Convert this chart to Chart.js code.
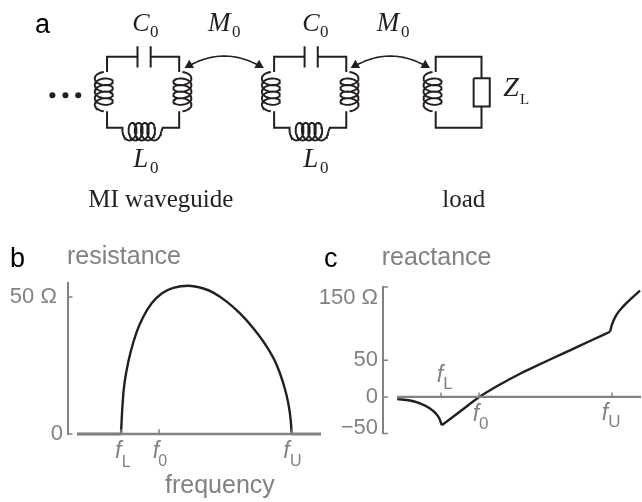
<!DOCTYPE html>
<html>
<head>
<meta charset="utf-8">
<script src="https://cdn.jsdelivr.net/npm/chart.js@4"></script>
<style>
  html, body { margin: 0; padding: 0; background: #fff; }
  #page { position: relative; width: 642px; height: 502px; overflow: hidden; }
  canvas { position: absolute; }
</style>
</head>
<body>
<div id="page">
  <canvas id="circuit" width="642" height="502" style="left:0;top:0"></canvas>
  <canvas id="resistance" width="322" height="200" style="left:0;top:260px"></canvas>
  <canvas id="reactance" width="342" height="200" style="left:300px;top:260px"></canvas>
</div>
<script>
const GRAY = "#808285";
const BLACK = "#231f20";

// frequency positions, arbitrary units
const fL = 62;
const f0 = 100;
const fU = 233;

// panel b
const resistanceFreq = [62, 63, 64.7, 67.7, 71.7, 77.7, 84.3, 92.7, 102.7, 114.3, 129.3, 144.3, 154.3, 167.7, 181, 194.3, 207.7, 217.7, 224.3, 229.3, 231.7, 232.7];
const resistanceVals = [0, 7.5, 16.1, 23.4, 30, 37.3, 42.8, 47.7, 51.3, 53.3, 54.1, 53.1, 51.6, 48.3, 44, 38.6, 31.9, 25.2, 18.5, 11.2, 5.1, 0];
const resistanceTicks = [0, 50];

// panel c, three pieces because of the kinks at fL and fU
const reactanceFreqLow = [18.3, 31, 41, 51, 57.7, 60.5, 62.7];
const reactanceValsLow = [-3.1, -5, -9, -16, -24, -30, -38.7];
const reactanceFreqMid = [62.7, 81, 101, 121, 141, 151, 171, 191, 211, 231];
const reactanceValsMid = [-38.7, -20, 0.4, 16.9, 31.6, 38.2, 51, 63.6, 76.3, 88.9];
const reactanceFreqHigh = [231, 233, 237, 244.3, 252.7, 261];
const reactanceValsHigh = [88.9, 99, 111, 123.6, 134.7, 145];
const reactanceTicks = [-50, 0, 50, 150];

const xy = (xs, ys) => xs.map((x, i) => ({ x, y: ys[i] }));
const pairs = (list) => list.map(([x, y]) => ({ x, y }));
const line = (data, color, width, extra) => ({
  data, borderColor: color, borderWidth: width, showLine: true, pointRadius: 0, clip: false, ...extra,
});
const curve = { cubicInterpolationMode: "monotone" };

// short tick marks drawn on the inside of an axis
const marks = (vals, len, vertical) => vals.flatMap((v) => vertical
  ? [{ x: v, y: 0 }, { x: v, y: len }, { x: v, y: null }]
  : [{ x: len[0], y: v }, { x: len[1], y: v }, { x: null, y: null }]);

function plotOptions(xMin, xMax, yMin, yMax, yTicks, yWidth, tickLabel, tickFont) {
  return {
    responsive: false,
    animation: false,
    layout: { padding: { top: yMax === 150 ? 23.5 : 23, bottom: yMax === 150 ? 26.5 : 26, left: 0, right: 1 } },
    plugins: { legend: { display: false }, tooltip: { enabled: false } },
    scales: {
      x: { type: "linear", display: false, min: xMin, max: xMax },
      y: {
        type: "linear",
        min: yMin,
        max: yMax,
        afterBuildTicks: (s) => { s.ticks = yTicks.map((value) => ({ value })); },
        afterFit: (s) => { s.width = yWidth; },
        grid: { display: false, drawTicks: false },
        border: { display: true, color: GRAY, width: 2 },
        ticks: { autoSkip: false, color: GRAY, padding: 5, callback: tickLabel, font: tickFont },
      },
    },
  };
}

new Chart(document.getElementById("resistance"), {
  type: "scatter",
  data: {
    datasets: [
      line(pairs([[18, 0], [262, 0]]), GRAY, 2.4),
      line(marks([fL, f0, fU], 1.7, true), GRAY, 1.5),
      line(marks(resistanceTicks, [9, 13.5], false), GRAY, 1.5),
      line(pairs([[18, 0], [62, 0]]), BLACK, 2.4),
      line(xy(resistanceFreq, resistanceVals), BLACK, 2.4, curve),
      line(pairs([[232.7, 0], [262, 0]]), BLACK, 2.4),
    ],
  },
  options: plotOptions(9, 262, 0, 55.1, resistanceTicks, 68,
    (v) => (v === 50 ? "50 Ω " : "0"), { family: "Liberation Sans", size: 22 }),
});

new Chart(document.getElementById("reactance"), {
  type: "scatter",
  data: {
    datasets: [
      line(pairs([[18, 0], [262, 0]]), GRAY, 2.4),
      line(marks([fL, f0, fU], 6, true), GRAY, 1.5),
      line(marks(reactanceTicks, [4, 9], false), GRAY, 1.5),
      line(xy(reactanceFreqLow, reactanceValsLow), BLACK, 2.4, curve),
      line(xy(reactanceFreqMid, reactanceValsMid), BLACK, 2.4, curve),
      line(xy(reactanceFreqHigh, reactanceValsHigh), BLACK, 2.4, curve),
    ],
  },
  options: plotOptions(4, 262, -50, 150, reactanceTicks, 83,
    (v) => {
      // the end labels sit inside their ticks
      if (v === 150) return ["", "150 Ω"];
      if (v === -50) return ["−50", ""];
      return String(v);
    },
    (ctx) => ({
      family: "Liberation Sans",
      size: 22,
      lineHeight: ctx.tick && ctx.tick.value === -50 ? "12px" : "22px",
    })),
});

// schematic, in page pixels
function coil(cx, y0, dir) {
  const pts = [];
  for (let t = 0; t <= 4.5; t += 0.03) {
    pts.push({ x: cx - dir * 9.2 * Math.sin(2 * Math.PI * t), y: y0 + 6.7 * t - 5 * Math.cos(2 * Math.PI * t) });
  }
  return pts;
}
function flatCoil(x0, cy) {
  const pts = [];
  for (let t = 0; t <= 4.5; t += 0.03) {
    pts.push({ x: x0 + 6.3 * t - 5.5 * Math.cos(2 * Math.PI * t), y: cy + 9 * Math.sin(2 * Math.PI * t) });
  }
  return pts;
}
function arc(x1, x2) {
  const pts = [];
  for (let u = -1; u <= 1.001; u += 0.05) {
    pts.push({ x: (x1 + x2) / 2 + u * (x2 - x1) / 2, y: 51.7 + 11 * u * u });
  }
  return pts;
}
function cell(dx) {
  const wire = (list) => line(pairs(list.map(([x, y]) => [x + dx, y])), BLACK, 2);
  return [
    wire([[103.3, 68], [103.3, 52.3], [134.3, 52.3]]),
    wire([[134.3, 41.7], [134.3, 63.3]]),
    wire([[147.7, 41.7], [147.7, 63.3]]),
    wire([[147.7, 52.3], [176.7, 52.3], [176.7, 68]]),
    wire([[103.3, 108], [103.3, 125], [119, 125], [119, 129]]),
    wire([[158.5, 129], [160, 125], [176.7, 125], [176.7, 108]]),
    line(coil(100 + dx, 73, 1), BLACK, 1.9),
    line(coil(180 + dx, 73, -1), BLACK, 1.9),
    line(flatCoil(124.5 + dx, 129), BLACK, 1.9),
  ];
}
const loadWires = [
  [[437.7, 68], [437.7, 52.3], [484.3, 52.3], [484.3, 74.3]],
  [[476.3, 74.3], [492.7, 74.3], [492.7, 103.3], [476.3, 103.3], [476.3, 74.3]],
  [[484.3, 103.3], [484.3, 125], [437.7, 125], [437.7, 108]],
];
const dots = [[47.7, 91.7], [61, 91.7], [74, 91.7]];

const SERIF = "'Liberation Serif'";
const SANS = "'Liberation Sans'";
const pageText = [
  ["a", 35, 33, `27px ${SANS}`, "#000"],
  ["b", 10, 267, `27px ${SANS}`, "#000"],
  ["c", 324, 267, `27px ${SANS}`, "#000"],
  ["C", 132.3, 30.7, `italic 26px ${SERIF}`, BLACK],
  ["0", 150, 37.3, `17px ${SERIF}`, BLACK],
  ["C", 302.3, 30.7, `italic 26px ${SERIF}`, BLACK],
  ["0", 320, 37.3, `17px ${SERIF}`, BLACK],
  ["M", 208, 30.7, `italic 27px ${SERIF}`, BLACK],
  ["0", 232, 37.3, `17px ${SERIF}`, BLACK],
  ["M", 376.7, 30.7, `italic 27px ${SERIF}`, BLACK],
  ["0", 401, 37.3, `17px ${SERIF}`, BLACK],
  ["L", 133.3, 167.3, `italic 27px ${SERIF}`, BLACK],
  ["0", 150, 173, `17px ${SERIF}`, BLACK],
  ["L", 303.3, 167.3, `italic 27px ${SERIF}`, BLACK],
  ["0", 320, 173, `17px ${SERIF}`, BLACK],
  ["Z", 503.3, 96, `italic 28px ${SERIF}`, BLACK],
  ["L", 520, 104, `15px ${SERIF}`, BLACK],
  ["MI waveguide", 88.3, 207, `25px ${SERIF}`, BLACK],
  ["load", 442.3, 207, `25px ${SERIF}`, BLACK],
  ["resistance", 67, 264, `25px ${SANS}`, GRAY],
  ["reactance", 381.7, 265, `25px ${SANS}`, GRAY],
  ["frequency", 165, 493, `25px ${SANS}`, GRAY],
  ["f", 115, 458, `italic 23px ${SANS}`, GRAY],
  ["L", 121.7, 466.7, `16px ${SANS}`, GRAY],
  ["f", 152.7, 458, `italic 23px ${SANS}`, GRAY],
  ["0", 158.3, 466, `16px ${SANS}`, GRAY],
  ["f", 283.3, 458, `italic 23px ${SANS}`, GRAY],
  ["U", 290, 465.5, `16px ${SANS}`, GRAY],
  ["f", 436.7, 381.7, `italic 23px ${SANS}`, GRAY],
  ["L", 443.3, 389.3, `17px ${SANS}`, GRAY],
  ["f", 472.7, 420.7, `italic 23px ${SANS}`, GRAY],
  ["0", 479, 429, `17px ${SANS}`, GRAY],
  ["f", 601.7, 420, `italic 23px ${SANS}`, GRAY],
  ["U", 608.3, 427, `17px ${SANS}`, GRAY],
];

const textPlugin = {
  id: "pageText",
  afterDraw(chart) {
    const c = chart.ctx;
    c.save();
    c.textBaseline = "alphabetic";
    c.textAlign = "left";
    pageText.forEach(([s, x, y, font, color]) => {
      c.font = font;
      c.fillStyle = color;
      c.fillText(s, x, y);
    });
    c.restore();
  },
};

new Chart(document.getElementById("circuit"), {
  type: "scatter",
  data: {
    datasets: [
      ...cell(0),
      ...cell(170),
      ...loadWires.map((w) => line(pairs(w), BLACK, 2)),
      line(coil(434.5, 73, 1), BLACK, 1.9),
      line(arc(185, 260), BLACK, 1.6),
      line(arc(354, 429), BLACK, 1.6),
      { data: pairs([[187, 61], [356, 61]]), pointStyle: "triangle", pointRadius: 5.5, rotation: 240, backgroundColor: BLACK, borderWidth: 0, clip: false },
      { data: pairs([[258, 61], [427, 61]]), pointStyle: "triangle", pointRadius: 5.5, rotation: 120, backgroundColor: BLACK, borderWidth: 0, clip: false },
      { data: pairs(dots), pointStyle: "circle", pointRadius: 3, backgroundColor: BLACK, borderWidth: 0 },
    ],
  },
  options: {
    responsive: false,
    animation: false,
    layout: { padding: 0 },
    plugins: { legend: { display: false }, tooltip: { enabled: false } },
    scales: {
      x: { type: "linear", display: false, min: 0, max: 642 },
      y: { type: "linear", display: false, min: 0, max: 502, reverse: true },
    },
  },
  plugins: [textPlugin],
});
</script>
</body>
</html>
